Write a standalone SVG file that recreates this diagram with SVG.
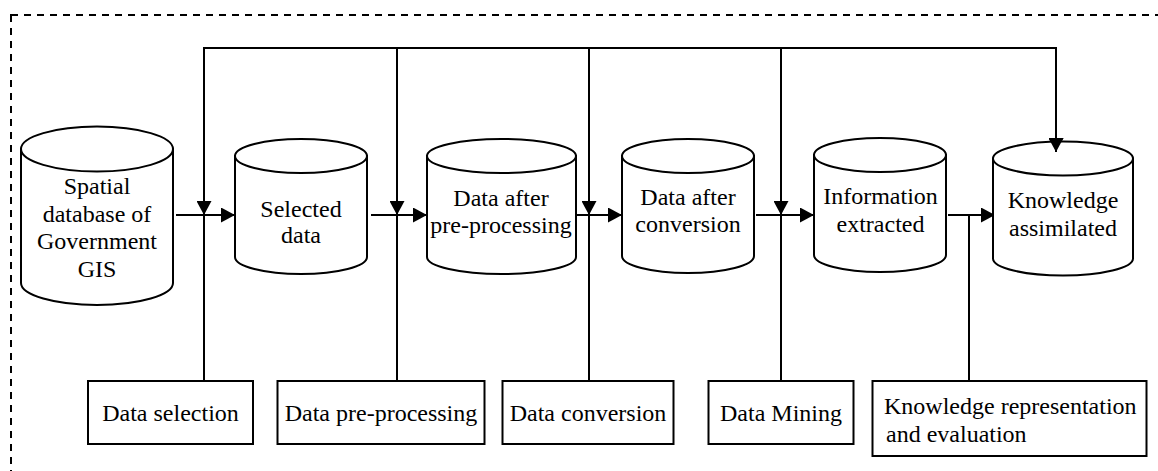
<svg xmlns="http://www.w3.org/2000/svg" width="1158" height="471" viewBox="0 0 1158 471">
<style>
  .frame{fill:none;stroke:#000;stroke-width:2;stroke-dasharray:7,6}
  .cyl{fill:#fff;stroke:#000;stroke-width:2}
  .box{fill:#fff;stroke:#000;stroke-width:2}
  .ln{fill:none;stroke:#000;stroke-width:2}
  text{font-family:"Liberation Serif","Times New Roman",serif;font-size:24px;fill:#000}
  .c{text-anchor:middle}
</style>
<defs>
  <marker id="ah" markerUnits="userSpaceOnUse" markerWidth="15" markerHeight="15" refX="14" refY="7.5" orient="auto">
    <path d="M0,0 L14,7.5 L0,15 z" fill="#000"/>
  </marker>
</defs>
<rect class="frame" x="11" y="15" width="1200" height="500"/>

<g id="connectors">
  <polyline class="ln" points="204,381 204,48 1056,48 1056,152" marker-end="url(#ah)"/>
  <line class="ln" x1="204" y1="48" x2="204" y2="215" marker-end="url(#ah)"/>
  <line class="ln" x1="397" y1="48" x2="397" y2="215" marker-end="url(#ah)"/>
  <line class="ln" x1="397" y1="215" x2="397" y2="381"/>
  <line class="ln" x1="589" y1="48" x2="589" y2="215" marker-end="url(#ah)"/>
  <line class="ln" x1="589" y1="215" x2="589" y2="381"/>
  <line class="ln" x1="781" y1="48" x2="781" y2="215" marker-end="url(#ah)"/>
  <line class="ln" x1="781" y1="215" x2="781" y2="381"/>
  <line class="ln" x1="969" y1="215" x2="969" y2="381"/>
  <line class="ln" x1="176" y1="215" x2="235" y2="215" marker-end="url(#ah)"/>
  <line class="ln" x1="371" y1="215" x2="427" y2="215" marker-end="url(#ah)"/>
  <line class="ln" x1="577" y1="215" x2="622" y2="215" marker-end="url(#ah)"/>
  <line class="ln" x1="756" y1="215" x2="814" y2="215" marker-end="url(#ah)"/>
  <line class="ln" x1="948" y1="215" x2="995" y2="215" marker-end="url(#ah)"/>
</g>

<g id="db-spatial">
  <path class="cyl" d="M21,149 L21,283 A76,22 0 0 0 173,283 L173,149 Z"/>
  <ellipse class="cyl" cx="97" cy="149" rx="76" ry="22.5"/>
  <text class="c" x="97" y="194">Spatial</text>
  <text class="c" x="97" y="221.5">database of</text>
  <text class="c" x="97" y="249">Government</text>
  <text class="c" x="97" y="276.5">GIS</text>
</g>
<g id="db-selected">
  <path class="cyl" d="M235,156 L235,257 A66,17 0 0 0 367,257 L367,156 Z"/>
  <ellipse class="cyl" cx="301" cy="156" rx="66" ry="17"/>
  <text class="c" x="301" y="216.5">Selected</text>
  <text class="c" x="301" y="243">data</text>
</g>
<g id="db-preprocessed">
  <path class="cyl" d="M427,156 L427,257 A74.5,17 0 0 0 576,257 L576,156 Z"/>
  <ellipse class="cyl" cx="501.5" cy="156" rx="74.5" ry="17"/>
  <text class="c" x="501" y="206">Data after</text>
  <text class="c" x="501" y="233">pre-processing</text>
</g>
<g id="db-converted">
  <path class="cyl" d="M622,156 L622,256 A66,17 0 0 0 754,256 L754,156 Z"/>
  <ellipse class="cyl" cx="688" cy="156" rx="66" ry="17"/>
  <text class="c" x="688" y="205">Data after</text>
  <text class="c" x="688" y="232">conversion</text>
</g>
<g id="db-information">
  <path class="cyl" d="M814,155 L814,255 A66,17 0 0 0 946,255 L946,155 Z"/>
  <ellipse class="cyl" cx="880" cy="155" rx="66" ry="17"/>
  <text class="c" x="880.5" y="204">Information</text>
  <text class="c" x="880.5" y="231.5">extracted</text>
</g>
<g id="db-knowledge">
  <path class="cyl" d="M993,158.5 L993,258.5 A70,17 0 0 0 1133,258.5 L1133,158.5 Z"/>
  <ellipse class="cyl" cx="1063" cy="158.5" rx="70" ry="17"/>
  <text class="c" x="1063" y="208">Knowledge</text>
  <text class="c" x="1063" y="235.5">assimilated</text>
</g>

<g id="arrow-top-knowledge">
  <line class="ln" x1="1056" y1="130" x2="1056" y2="152" marker-end="url(#ah)"/>
</g>

<g id="step-selection">
  <rect class="box" x="88" y="381" width="165" height="63"/>
  <text class="c" x="170.5" y="421">Data selection</text>
</g>
<g id="step-preprocessing">
  <rect class="box" x="277.5" y="381" width="207" height="63"/>
  <text class="c" x="381" y="421">Data pre-processing</text>
</g>
<g id="step-conversion">
  <rect class="box" x="502.5" y="381" width="171" height="63"/>
  <text class="c" x="588" y="421">Data conversion</text>
</g>
<g id="step-mining">
  <rect class="box" x="708.5" y="381" width="145" height="63"/>
  <text class="c" x="781" y="421">Data Mining</text>
</g>
<g id="step-knowledge">
  <rect class="box" x="872.5" y="381" width="274" height="75"/>
  <text x="884" y="413.5">Knowledge representation</text>
  <text x="886" y="441.5">and evaluation</text>
</g>
</svg>
